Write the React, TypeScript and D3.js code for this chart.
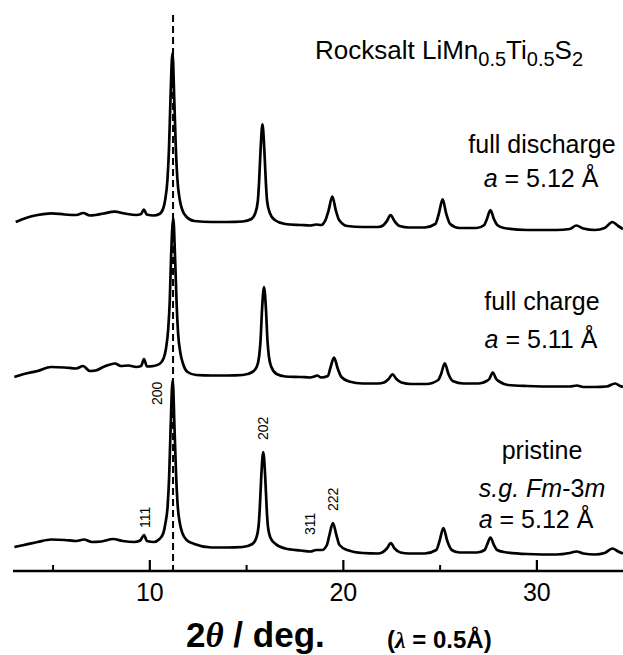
import React from 'react';
import * as d3 from 'd3';

// XRD patterns: [2theta (deg), intensity (a.u.)]
const pristine = [
  [3.0, 24], [3.5, 26], [4.2, 29], [4.9, 31.5], [5.6, 31], [6.2, 30], [6.6, 31.5], [7.0, 29], [7.5, 29.5],
  [8.1, 32], [8.6, 30], [9.2, 29], [9.5, 30.5], [9.7, 36], [9.85, 30], [10.2, 29], [10.5, 32],
  [10.7, 38], [10.8, 47], [10.92, 65], [11.0, 95], [11.07, 140], [11.18, 191], [11.28, 140], [11.35, 100],
  [11.43, 68], [11.55, 48], [11.68, 38], [11.9, 31], [12.3, 27], [13.2, 23.5], [14.0, 23.5], [14.8, 24],
  [15.3, 27], [15.5, 33], [15.62, 45], [15.68, 62], [15.76, 95], [15.86, 119], [15.96, 95], [16.04, 62],
  [16.1, 45], [16.24, 33], [16.5, 27], [17.0, 22.5], [17.8, 20.5], [18.3, 19.5], [18.6, 21], [18.9, 21],
  [19.15, 26], [19.28, 36], [19.46, 48], [19.64, 36], [19.8, 26], [20.2, 21], [21.0, 18], [21.8, 17.5],
  [22.0, 18.5], [22.25, 22.5], [22.45, 28], [22.65, 22.5], [22.95, 18.5], [23.4, 17.5], [24.2, 17.5],
  [24.8, 21], [24.97, 30], [25.17, 43], [25.37, 30], [25.6, 21], [26.0, 18.5], [26.9, 18.5],
  [27.3, 21], [27.42, 26], [27.6, 33.5], [27.78, 26], [27.95, 21], [28.3, 19], [29.5, 17], [31.0, 16.5],
  [31.7, 18], [32.05, 19.5], [32.4, 17.5], [33.0, 16.5], [33.5, 18], [33.9, 22.5], [34.2, 19.5], [34.45, 17.5],
];

const fullCharge = [
  [3.0, 24], [3.5, 27], [4.2, 30], [4.9, 34], [5.6, 33.5], [6.2, 32.5], [6.55, 35], [6.9, 30], [7.2, 30.5],
  [7.6, 34], [8.2, 37.5], [8.5, 35], [8.9, 35.5], [9.3, 34], [9.55, 35], [9.7, 42], [9.85, 34.5], [10.2, 35],
  [10.5, 37], [10.72, 43], [10.84, 53], [10.95, 72], [11.03, 100], [11.1, 145], [11.21, 183], [11.31, 140],
  [11.38, 100], [11.46, 68], [11.58, 48], [11.72, 37], [11.95, 29], [12.4, 26], [13.2, 25.5], [14.0, 25.5],
  [14.8, 26], [15.3, 29], [15.52, 34], [15.65, 45], [15.72, 60], [15.8, 92], [15.9, 114], [16.0, 92],
  [16.08, 60], [16.15, 45], [16.28, 34], [16.55, 27], [17.0, 24.5], [17.8, 24], [18.3, 23.5], [18.5, 24.5],
  [18.65, 25.5], [18.85, 23.5], [19.2, 25], [19.33, 33], [19.52, 43.5], [19.7, 33], [19.9, 24], [20.3, 19.5],
  [21.0, 17.5], [21.8, 17.5], [22.1, 18.5], [22.34, 22], [22.54, 26.7], [22.74, 22], [23.0, 18.5], [23.5, 17],
  [24.3, 17], [24.9, 21], [25.05, 27], [25.24, 37.7], [25.43, 27], [25.65, 20], [26.2, 17.5], [27.0, 17.5],
  [27.4, 20], [27.54, 22], [27.72, 28.5], [27.9, 22], [28.1, 19], [28.5, 16], [29.5, 15], [31.0, 14.5],
  [31.7, 14.5], [32.07, 15.5], [32.4, 14], [33.0, 14], [33.6, 14.5], [34.05, 17.5], [34.3, 15], [34.45, 14],
];

const fullDischarge = [
  [3.07, 24], [3.6, 28], [4.2, 31], [4.92, 32.7], [5.6, 31.5], [6.2, 31], [6.56, 33], [6.9, 30.5], [7.2, 31],
  [7.6, 32.5], [8.19, 34.3], [8.7, 32.5], [9.3, 31], [9.55, 32], [9.69, 36.5], [9.84, 31.5], [10.2, 30.5],
  [10.5, 32], [10.7, 38], [10.8, 47], [10.91, 66], [10.99, 97], [11.06, 142], [11.17, 193], [11.27, 142],
  [11.34, 100], [11.42, 68], [11.54, 47], [11.68, 36], [11.9, 29], [12.3, 25], [13.2, 24], [14.0, 24],
  [14.8, 24.5], [15.25, 27], [15.45, 33], [15.58, 45], [15.64, 62], [15.72, 95], [15.82, 121.7], [15.92, 95],
  [16.0, 62], [16.06, 45], [16.2, 33], [16.45, 26], [17.0, 22], [17.8, 21], [18.3, 20.5], [18.6, 21.5],
  [18.85, 21], [19.1, 27], [19.23, 35], [19.43, 49.3], [19.62, 35], [19.78, 26], [20.2, 20], [21.0, 19],
  [21.8, 19], [22.05, 20.5], [22.25, 25], [22.44, 31], [22.64, 25], [22.9, 20], [23.4, 18.5], [24.2, 18.5],
  [24.75, 22], [24.93, 32], [25.13, 46.7], [25.32, 32], [25.52, 22], [26.0, 18], [26.9, 18],
  [27.28, 21], [27.41, 26.5], [27.6, 36], [27.79, 26.5], [27.95, 21], [28.3, 18], [29.5, 16], [31.0, 16],
  [31.7, 17], [32.04, 20.5], [32.4, 17.5], [33.0, 16], [33.5, 18], [33.9, 24], [34.2, 20], [34.45, 17],
];

// vertical stacking of the patterns (a.u.)
const offsets = [0, 170, 325];

const majorTicks = [10, 20, 30];
const minorTicks = [5, 15, 25];
const refAngle = 11.2; // (200) reflection

// hkl labels: 2theta and intensity level where the label begins
const peakLabels = [
  { hkl: '111', pos: 9.74, at: 43 },
  { hkl: '200', pos: 10.35, at: 166 },
  { hkl: '202', pos: 15.85, at: 131 },
  { hkl: '311', pos: 18.26, at: 36 },
  { hkl: '222', pos: 19.46, at: 60 },
];

const sans = "Arial, 'Liberation Sans', Helvetica, sans-serif";
const serif = "'Times New Roman', 'Liberation Serif', serif";

export default function App() {
  const width = 623;
  const height = 655;
  const axisY = 571;

  const x = d3.scaleLinear().domain([2.93, 34.45]).range([13, 623]);
  const y = d3.scaleLinear().domain([0, 560]).range([axisY, 11]);

  const series = [pristine, fullCharge, fullDischarge];

  const lineFor = (off: number) =>
    d3
      .line<number[]>()
      .x(d => x(d[0]))
      .y(d => y(d[1] + off))
      .curve(d3.curveMonotoneX);

  return (
    <svg
      width={width}
      height={height}
      style={{ position: 'absolute', left: 0, top: 0, background: '#fff' }}
      fontFamily={sans}
    >
      {/* dashed reference line at the 200 reflection */}
      <line
        x1={x(refAngle)}
        x2={x(refAngle)}
        y1={15}
        y2={axisY}
        stroke="#000"
        strokeWidth={2}
        strokeDasharray="7,4"
      />

      {series.map((s, i) => (
        <path
          key={i}
          d={lineFor(offsets[i])(s) || ''}
          fill="none"
          stroke="#000"
          strokeWidth={2.7}
          strokeLinejoin="round"
        />
      ))}

      {/* x axis */}
      <line x1={x.range()[0]} x2={x.range()[1]} y1={axisY} y2={axisY} stroke="#000" strokeWidth={2.6} />
      {majorTicks.map(t => (
        <g key={t}>
          <line x1={x(t)} x2={x(t)} y1={axisY} y2={axisY - 11} stroke="#000" strokeWidth={2.2} />
          <text x={x(t)} y={601} textAnchor="middle" fontSize={25}>
            {t}
          </text>
        </g>
      ))}
      {minorTicks.map(t => (
        <line key={t} x1={x(t)} x2={x(t)} y1={axisY} y2={axisY - 6} stroke="#000" strokeWidth={2} />
      ))}

      <text x={186} y={647} fontSize={35} fontWeight="bold">
        2<tspan fontFamily={serif} fontStyle="italic">θ</tspan> / deg.
      </text>
      <text x={387} y={648} fontSize={24} fontWeight="bold">
        (<tspan fontFamily={serif} fontStyle="italic">λ</tspan> = 0.5Å)
      </text>

      {/* hkl labels */}
      {peakLabels.map(p => (
        <text
          key={p.hkl}
          transform={`translate(${x(p.pos) + 5},${y(p.at)}) rotate(-90)`}
          fontSize={14}
        >
          {p.hkl}
        </text>
      ))}

      {/* annotations */}
      <text x={315} y={59} fontSize={26}>
        Rocksalt LiMn<tspan fontSize={20} dy={7}>0.5</tspan>
        <tspan dy={-7}>Ti</tspan>
        <tspan fontSize={20} dy={7}>0.5</tspan>
        <tspan dy={-7}>S</tspan>
        <tspan fontSize={20} dy={7}>2</tspan>
      </text>

      <g fontSize={25} textAnchor="middle">
        <text x={542} y={153}>full discharge</text>
        <text x={541} y={187}>
          <tspan fontStyle="italic">a</tspan> = 5.12 Å
        </text>
        <text x={542} y={310}>full charge</text>
        <text x={541} y={348}>
          <tspan fontStyle="italic">a</tspan> = 5.11 Å
        </text>
        <text x={542} y={459}>pristine</text>
        <text x={542} y={497}>
          <tspan fontStyle="italic">s.g. Fm</tspan>-3<tspan fontStyle="italic">m</tspan>
        </text>
        <text x={536} y={528}>
          <tspan fontStyle="italic">a</tspan> = 5.12 Å
        </text>
      </g>
    </svg>
  );
}
